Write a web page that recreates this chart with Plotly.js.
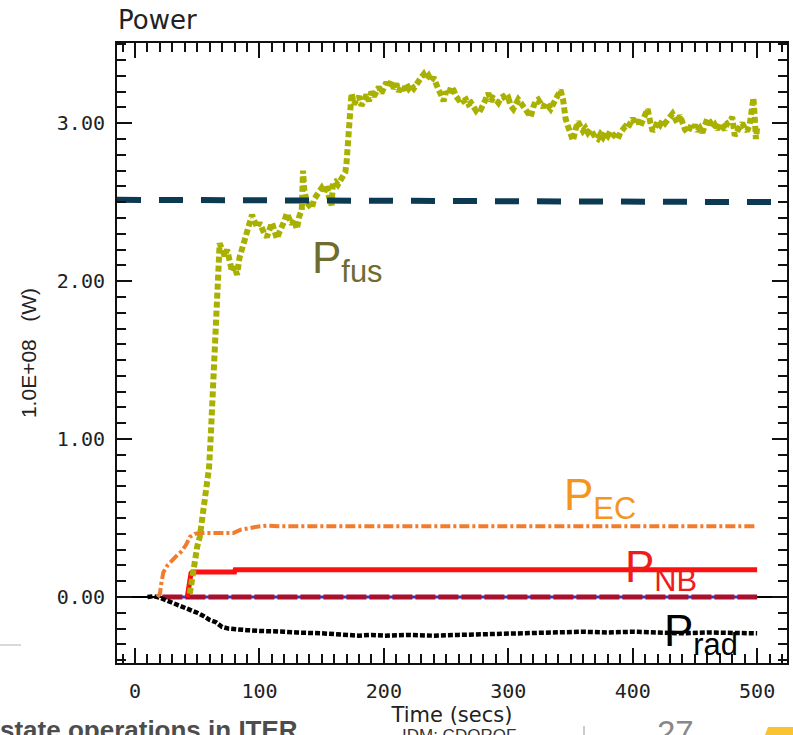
<!DOCTYPE html>
<html>
<head>
<meta charset="utf-8">
<script src="https://cdn.plot.ly/plotly-3.0.1.min.js"></script>
<style>html,body{margin:0;padding:0;background:#fff;}#chart{width:793px;height:735px;}</style>
</head>
<body>
<div id="chart"></div>
<script>
// ---- data (time in s, power in 1e8 W) ----
const fusT = [44,45,46,48,50,52,54,56,58,59.5,61,62,63,64.5,66,67,68,70,72,74,76,78,80,82,84,86,88,90,92,94,96,98,100,102,104,106,108,110,112,114,116,118,120,122,124,126,128,130,132,134,135,136,138,140,142,144,146,148,150,152,154,156,158,159,161,163,165,167,169,170,171,172,173,174,176,178,180,182,184,186,188,190,192,194,196,198,200,202,204,206,208,210,212,214,216,218,220,222,224,226,228,230,232,234,236,238,240,242,244,246,248,250,252,254,256,258,260,262,264,266,268,270,272,274,276,278,280,282,284,286,288,290,292,294,296,298,300,302,304,306,308,310,312,314,316,318,320,322,324,326,328,330,332,334,336,338,340,342,344,345,346,348,350,352,354,356,358,360,362,364,366,368,370,372,374,376,378,380,382,384,386,388,390,392,394,396,398,400,402,404,406,408,410,412,414,416,418,420,422,424,426,428,430,432,434,436,438,440,442,444,446,448,450,452,454,456,458,460,462,464,466,468,470,472,474,476,478,480,482,484,486,488,490,492,494,496,497,498,499,500];
const fusP = [0.02,0.08,0.15,0.24,0.32,0.38,0.50,0.62,0.74,0.82,1.04,1.20,1.35,1.63,1.84,2.13,2.24,2.20,2.16,2.20,2.12,2.06,2.09,2.04,2.15,2.20,2.28,2.30,2.36,2.42,2.38,2.34,2.37,2.33,2.30,2.28,2.33,2.37,2.32,2.27,2.31,2.34,2.38,2.43,2.40,2.36,2.39,2.33,2.41,2.45,2.70,2.58,2.50,2.48,2.46,2.52,2.55,2.58,2.59,2.56,2.61,2.53,2.48,2.62,2.63,2.61,2.64,2.66,2.69,2.75,2.85,2.97,3.06,3.19,3.12,3.14,3.17,3.11,3.16,3.18,3.14,3.20,3.17,3.21,3.23,3.19,3.24,3.26,3.23,3.27,3.22,3.25,3.20,3.23,3.21,3.25,3.22,3.24,3.22,3.25,3.27,3.29,3.31,3.28,3.30,3.27,3.29,3.24,3.21,3.18,3.14,3.20,3.18,3.23,3.21,3.17,3.15,3.16,3.14,3.15,3.12,3.13,3.10,3.08,3.10,3.09,3.12,3.17,3.19,3.14,3.16,3.15,3.13,3.16,3.17,3.15,3.16,3.11,3.09,3.12,3.15,3.13,3.11,3.08,3.06,3.04,3.10,3.14,3.15,3.12,3.10,3.13,3.11,3.09,3.12,3.15,3.19,3.21,3.15,3.08,3.03,2.98,2.94,2.89,2.96,3.01,2.98,2.95,2.97,2.94,2.96,2.93,2.91,2.90,2.93,2.91,2.94,2.92,2.95,2.93,2.91,2.90,2.94,2.96,2.98,2.97,3.01,3.03,3.00,3.02,2.98,3.01,3.04,3.09,3.01,2.95,2.97,3.01,2.99,3.02,3.00,3.03,3.04,3.06,3.02,3.00,3.05,3.00,2.96,2.94,2.97,2.96,2.99,2.95,2.97,2.94,2.99,3.03,3.01,2.97,2.99,2.96,3.00,2.98,2.96,3.00,3.01,3.04,2.92,2.95,2.97,3.00,2.97,2.95,2.99,3.10,3.16,3.05,2.90,2.97];

const ecT = [18,20,21,22.7,26,30.6,34,37.5,41,44,48,52,60,70,79,84.5,90,98,106,115,200,300,400,500];
const ecP = [0,0.02,0.08,0.155,0.20,0.24,0.265,0.29,0.33,0.38,0.40,0.405,0.405,0.405,0.405,0.425,0.435,0.445,0.452,0.448,0.448,0.448,0.448,0.448];

const nbT = [42,43,44,45,46,60,80,80.5,150,250,350,450,500];
const nbP = [0.0,0.05,0.12,0.15,0.158,0.158,0.158,0.172,0.172,0.172,0.172,0.172,0.172];

const radT = [10,15,20,25,30,35,40,45,50,55,60,65,70,75,80,90,100,110,120,130,140,150,160,170,180,190,200,220,240,260,280,300,320,340,360,380,400,420,440,460,480,500];
const radP = [0,0.005,-0.005,-0.02,-0.035,-0.05,-0.065,-0.08,-0.10,-0.12,-0.145,-0.16,-0.19,-0.20,-0.205,-0.21,-0.215,-0.215,-0.22,-0.225,-0.225,-0.23,-0.235,-0.24,-0.245,-0.24,-0.245,-0.24,-0.245,-0.24,-0.235,-0.235,-0.23,-0.225,-0.22,-0.225,-0.22,-0.225,-0.23,-0.225,-0.23,-0.23];

const zeroT = [22,500];
const zeroP = [0,0];

const refT = [-14.5,524];
const refP = [2.515,2.50];

const xTickVals = [0,100,200,300,400,500];
const yTickVals = [0,1,2,3];
const yTickText = ['0.00','1.00','2.00','3.00'];

const labels = [
  {name:'fus', t:140.5, p:2.13, color:'#6e6c30'},
  {name:'EC',  t:343.0, p:0.63, color:'#f4951c'},
  {name:'NB',  t:392.0, p:0.17, color:'#ee1c1c'},
  {name:'rad', t:423.5, p:-0.235, color:'#000000'}
];

// ---- traces ----
const traces = [
  {x:zeroT, y:zeroP, mode:'lines', line:{color:'#2a3bd6', width:3}, hoverinfo:'skip'},
  {x:zeroT, y:zeroP, mode:'lines', line:{color:'#a8102e', width:5, dash:'20px,3px'}, hoverinfo:'skip'},
  {x:radT, y:radP, mode:'lines', line:{color:'#000000', width:4.5, dash:'5px,2px'}, name:'Prad'},
  {x:ecT, y:ecP, mode:'lines', line:{color:'#f27c2e', width:4, dash:'10px,3px,3px,3px'}, name:'PEC'},
  {x:nbT, y:nbP, mode:'lines', line:{color:'#ff1010', width:5}, name:'PNB'},
  {x:fusT, y:fusP, mode:'lines', line:{color:'#a9b100', width:6, dash:'6px,3px'}, name:'Pfus'},
  {x:refT, y:refP, mode:'lines', line:{color:'#0c3a52', width:6, dash:'24px,18px'}, name:'ref', cliponaxis:false}
];

const PX = (px)=> (px-117)/670;   // pixel -> paper x
const PY = (py)=> (663-py)/620;   // pixel -> paper y

const annotations = labels.map(l => ({
  x:l.t, y:l.p, xref:'x', yref:'y', xanchor:'left', yanchor:'middle',
  text:'P<sub>'+l.name+'</sub>', showarrow:false,
  font:{family:'Liberation Sans, Arial, sans-serif', size:44, color:l.color}
}));
annotations.push(
  {xref:'paper', yref:'paper', x:PX(-2), y:PY(713), xanchor:'left', yanchor:'top', showarrow:false,
   text:'<b>state operations in ITER</b>', font:{family:'Liberation Sans, Arial, sans-serif', size:26, color:'#4d4d4d'}},
  {xref:'paper', yref:'paper', x:PX(400), y:PY(724), xanchor:'left', yanchor:'top', showarrow:false,
   text:'IDM: CDQRQF', font:{family:'Liberation Sans, Arial, sans-serif', size:17, color:'#333'}},
  {xref:'paper', yref:'paper', x:PX(655), y:PY(712), xanchor:'left', yanchor:'top', showarrow:false,
   text:'27', font:{family:'Liberation Sans, Arial, sans-serif', size:33, color:'#888'}}
);

const shapes = [
  {type:'line', xref:'paper', yref:'paper', x0:PX(0), x1:PX(21), y0:PY(645), y1:PY(645), line:{color:'#cccccc', width:1.5}},
  {type:'line', xref:'paper', yref:'paper', x0:PX(584), x1:PX(584), y0:PY(726), y1:PY(735), line:{color:'#bbbbbb', width:1.5}},
  {type:'path', xref:'paper', yref:'paper', path:'M '+PX(768)+' '+PY(727)+' L '+PX(800)+' '+PY(727)+' L '+PX(800)+' '+PY(740)+' L '+PX(763)+' '+PY(740)+' Z',
   fillcolor:'#f8c431', line:{width:0}}
];

const axisCommon = {
  showline:true, linecolor:'#111', linewidth:2, mirror:'ticks',
  ticks:'inside', ticklen:15, tickwidth:2, tickcolor:'#111',
  showgrid:false, zeroline:false,
  tickfont:{family:'DejaVu Sans Mono, monospace', size:20, color:'#222'}
};

const layout = {
  width:793, height:735,
  margin:{l:117, r:6, t:43, b:72, pad:0},
  paper_bgcolor:'#ffffff', plot_bgcolor:'#ffffff',
  showlegend:false,
  title:{text:'Power', font:{family:'DejaVu Sans, sans-serif', size:26, color:'#222'},
         xref:'container', x:118/793, xanchor:'left', yref:'container', y:1-20/735, yanchor:'middle'},
  xaxis:Object.assign({}, axisCommon, {
    range:[-14.5,524], tickvals:xTickVals, ticktext:xTickVals.map(String),
    minor:{dtick:10, tick0:0, ticks:'inside', ticklen:9, tickwidth:2, tickcolor:'#111'},
    ticklabelstandoff:9,
    title:{text:'Time (secs)', font:{family:'DejaVu Sans, sans-serif', size:21, color:'#222'}, standoff:2}
  }),
  yaxis:Object.assign({}, axisCommon, {
    range:[-0.418,3.508], tickvals:yTickVals, ticktext:yTickText,
    zeroline:true, zerolinecolor:'#000', zerolinewidth:1.5,
    minor:{dtick:0.1, tick0:0, ticks:'inside', ticklen:9, tickwidth:2, tickcolor:'#111'},
    ticklabelstandoff:6,
    title:{text:'1.0E+08&nbsp;&nbsp;&nbsp;(W)', font:{family:'Liberation Sans, Arial, sans-serif', size:21, color:'#222'}, standoff:14}
  }),
  annotations:annotations,
  shapes:shapes
};

Plotly.newPlot('chart', traces, layout, {staticPlot:true, displayModeBar:false});
</script>
</body>
</html>
